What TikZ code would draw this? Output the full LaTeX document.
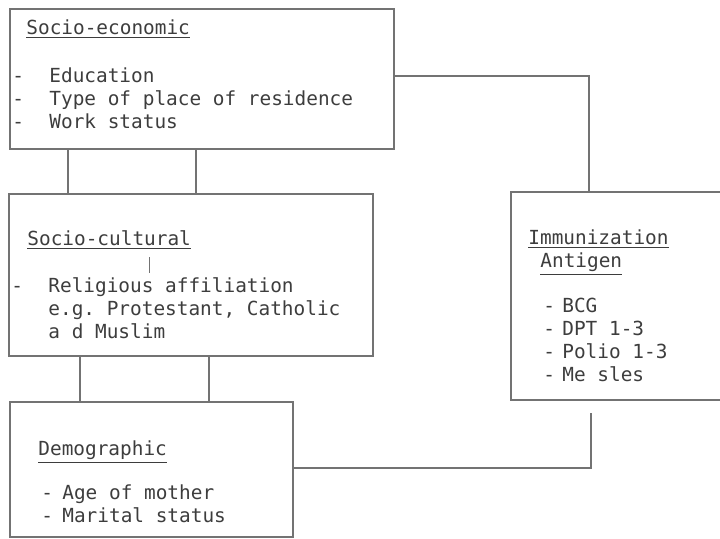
\documentclass[tikz,border=0pt]{standalone}
\usepackage{fontspec}
\setmonofont{DejaVu Sans Mono}
\definecolor{linegray}{gray}{0.45}
\definecolor{textgray}{gray}{0.24}
\tikzset{
	box/.style={draw=linegray, line width=0.8pt, inner sep=0pt, anchor=north west},
	% base of a multi-line text = baseline of its last line
	txt/.style={inner sep=0pt, anchor=base west, align=left, text=textgray,
		font=\fontsize{9.7pt}{11.5pt}\selectfont\ttfamily},
	link/.style={draw=linegray, line width=0.8pt}
}
\newcommand{\dashitem}[1]{\makebox[#1][l]{\hspace{1.5pt}-}}

\begin{document}
\begin{tikzpicture}[x=0.5pt, y=-0.5pt]
		\useasboundingbox (0,0) rectangle (720,538);

		\node[box, minimum width=192pt, minimum height=70pt] (econ) at (9,8) {};
		\node[box, minimum width=182pt, minimum height=81pt] (cult) at (8,193) {};
		\node[box, minimum width=141.5pt, minimum height=67.5pt] (demo) at (9,401) {};
		\node[box, minimum width=112.5pt, minimum height=104pt] (immun) at (510,191) {};

		\node[txt] (econtxt) at (9,128) {\hspace*{8.5pt}\underline{Socio-economic}\\[12.5pt]
			\dashitem{20pt}Education\\
			\dashitem{20pt}Type of place of residence\\
			\dashitem{20pt}Work status};
		\node[txt] (culttxt) at (8,338) {\hspace*{9.5pt}\underline{Socio-cultural}\\[12pt]
			\dashitem{20pt}Religious affiliation\\
			\hspace*{20pt}e.g. Protestant, Catholic\\
			\hspace*{20pt}a d Muslim};
		\node[txt] (demotxt) at (38,522) {\underline{Demographic}\\[10.5pt]
			\dashitem{12pt}Age of mother\\
			\dashitem{12pt}Marital status};
		\node[txt] (immuntxt) at (528,381) {\underline{Immunization}\\
			\hspace*{6pt}\underline{Antigen}\\[11pt]
			\hspace*{6pt}\dashitem{11pt}BCG\\
			\hspace*{6pt}\dashitem{11pt}DPT 1-3\\
			\hspace*{6pt}\dashitem{11pt}Polio 1-3\\
			\hspace*{6pt}\dashitem{11pt}Me sles};

		\draw[link] (68,0 |- econ.south) -- (68,0 |- cult.north);
		\draw[link] (196,0 |- econ.south) -- (196,0 |- cult.north);
		\draw[link] (80,0 |- cult.south) -- (80,0 |- demo.north);
		\draw[link] (209,0 |- cult.south) -- (209,0 |- demo.north);
		\draw[link] (econ.east |- 0,76) -| (589,0 |- immun.north);
		\draw[link, shorten >=6pt] (demo.east |- 0,468) -| (591,0 |- immun.south);

		\draw[link, line width=0.5pt] (150,257) -- (150,273);
	\end{tikzpicture}
\end{document}
